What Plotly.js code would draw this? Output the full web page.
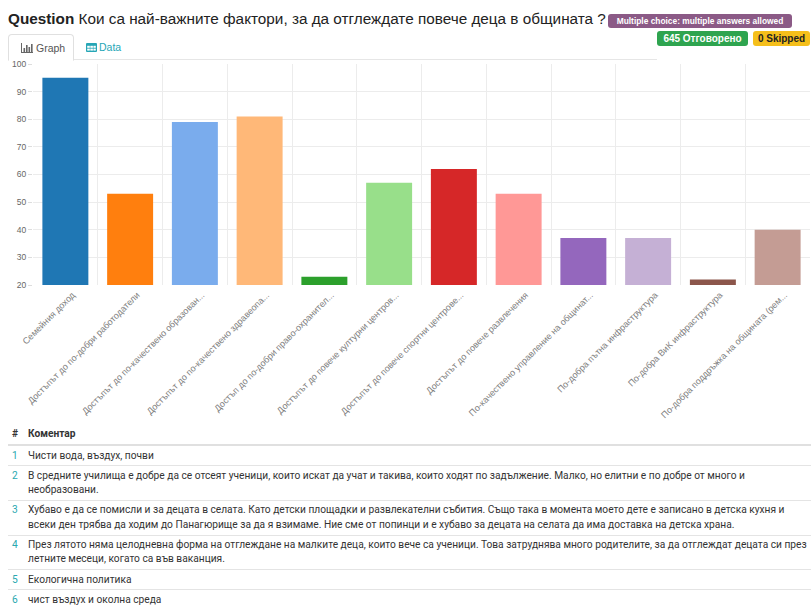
<!DOCTYPE html>
<html>
<head>
<meta charset="utf-8">
<script src="https://cdn.plot.ly/plotly-3.0.1.min.js"></script>
<style>
  html, body { margin:0; padding:0; background:#fff; width:811px; height:606px; overflow:hidden; font-family:"Liberation Sans", Arial, sans-serif; }
  #title { position:absolute; left:8px; top:10px; font-size:15.3px; color:#222; white-space:nowrap; }
  #title b { font-weight:bold; }
  .badge { position:absolute; color:#fff; font-weight:bold; border-radius:3px; white-space:nowrap; text-align:center; }
  #bq { left:608px; top:14px; width:184px; height:14px; line-height:14px; font-size:8.4px; background:#8b5a86; }
  #ba { left:657px; top:31px; width:91px; height:15px; line-height:15px; font-size:10px; background:#2ea44f; }
  #bs { left:753px; top:31px; width:57px; height:15px; line-height:15px; font-size:10px; background:#f5bf1b; color:#222; }
  #tabline { position:absolute; left:8px; top:59px; width:649px; height:1px; background:#e6e6e6; }
  #tabg { position:absolute; left:8px; top:34px; width:64px; height:25px; border:1px solid #e0e0e0; border-bottom:1px solid #fff; border-radius:4px 4px 0 0; background:#fff; font-size:10.5px; color:#555; }
  #tabg span { position:absolute; left:27px; top:7px; }
  #tabg svg { position:absolute; left:12px; top:8px; }
  #tabd { position:absolute; left:86px; top:41px; font-size:10.5px; color:#26a6b6; }
  #tabd span { position:absolute; left:13px; top:0px; }
  #tabd svg { position:absolute; left:0px; top:2px; }
  #chart { position:absolute; left:0; top:55px; width:811px; height:369px; }
  #tbl { position:absolute; left:8px; top:425px; width:803px; border-collapse:collapse; font-family:Roboto, "Liberation Sans", sans-serif; font-size:10.2px; color:#333; }
  #tbl td, #tbl th { padding:2.4px 0 2.4px 0; line-height:14.4px; vertical-align:top; border-bottom:1px solid #e4e4e4; text-align:left; }
  #tbl th { font-weight:bold; border-bottom:2px solid #e0e0e0; }
  #tbl .n { width:16px; padding-left:4px; color:#2aa8b0; }
  #tbl th.n { color:#333; }
  #tbl tr:last-child td { border-bottom:none; }
</style>
</head>
<body>
<div id="title"><b>Question</b> Кои са най-важните фактори, за да отглеждате повече деца в общината ?</div>
<div class="badge" id="bq">Multiple choice: multiple answers allowed</div>
<div class="badge" id="ba">645 Отговорено</div>
<div class="badge" id="bs">0 Skipped</div>
<div id="tabline"></div>
<div id="tabg"><svg width="12" height="10" viewBox="0 0 12 10"><rect x="0" y="0" width="1" height="10" fill="#666"/><rect x="0" y="9" width="12" height="1" fill="#666"/><rect x="2.5" y="5" width="1.6" height="4" fill="#666"/><rect x="5" y="2" width="1.6" height="7" fill="#666"/><rect x="7.5" y="4" width="1.6" height="5" fill="#666"/><rect x="10" y="1" width="1.6" height="8" fill="#666"/></svg><span>Graph</span></div>
<div id="tabd"><svg width="11" height="9" viewBox="0 0 11 9"><rect x="0" y="0" width="11" height="9" rx="1" fill="#26a6b6"/><rect x="1.2" y="2.8" width="2.6" height="2" fill="#fff"/><rect x="4.3" y="2.8" width="2.6" height="2" fill="#fff"/><rect x="7.4" y="2.8" width="2.4" height="2" fill="#fff"/><rect x="1.2" y="5.6" width="2.6" height="2" fill="#fff"/><rect x="4.3" y="5.6" width="2.6" height="2" fill="#fff"/><rect x="7.4" y="5.6" width="2.4" height="2" fill="#fff"/></svg><span>Data</span></div>
<div id="chart"></div>
<table id="tbl">
  <tr><th class="n">#</th><th>Коментар</th></tr>
  <tr><td class="n">1</td><td>Чисти вода, въздух, почви</td></tr>
  <tr><td class="n">2</td><td>В средните училища е добре да се отсеят ученици, които искат да учат и такива, които ходят по задължение. Малко, но елитни е по добре от много и<br>необразовани.</td></tr>
  <tr><td class="n">3</td><td>Хубаво е да се помисли и за децата в селата. Като детски площадки и развлекателни събития. Също така в момента моето дете е записано в детска кухня и<br>всеки ден трябва да ходим до Панагюрище за да я взимаме. Ние сме от попинци и е хубаво за децата на селата да има доставка на детска храна.</td></tr>
  <tr><td class="n">4</td><td>През лятото няма целодневна форма на отглеждане на малките деца, които вече са ученици. Това затруднява много родителите, за да отглеждат децата си през<br>летните месеци, когато са във ваканция.</td></tr>
  <tr><td class="n">5</td><td>Екологична политика</td></tr>
  <tr><td class="n">6</td><td>чист въздух и околна среда</td></tr>
</table>
<script>
const categories = [
  "Семейния доход",
  "Достъпът до по-добри работодатели",
  "Достъпът до по-качествено образован...",
  "Достъпът до по-качествено здравеопа...",
  "Достъп до по-добри право-охранител...",
  "Достъпът до повече културни центров...",
  "Достъпът до повече спортни центрове...",
  "Достъпът до повече развлечения",
  "По-качествено управление на общинат...",
  "По-добра пътна инфраструктура",
  "По-добра ВиК инфраструктура",
  "По-добра поддръжка на общината (рем..."
];
const values = [95, 53, 79, 81, 23, 57, 62, 53, 37, 37, 22, 40];
const yTicks = [20, 30, 40, 50, 60, 70, 80, 90, 100];

const barColors = ["#1f77b4", "#ff7f0e", "#7aaced", "#ffb878", "#2ca02c", "#98df8a",
                   "#d62728", "#ff9896", "#9467bd", "#c5b0d5", "#8c564b", "#c49c94"];

const trace = {
  type: "bar",
  x: categories,
  y: values,
  marker: { color: barColors },
  hoverinfo: "x+y"
};

const layout = {
  width: 811, height: 369,
  margin: { l: 33, r: 1, t: 9, b: 139 },
  paper_bgcolor: "rgba(0,0,0,0)",
  plot_bgcolor: "#fff",
  bargap: 0.29,
  showlegend: false,
  font: { family: "Liberation Sans, Arial, sans-serif", color: "#666" },
  xaxis: {
    type: "category",
    tickangle: -45,
    tickson: "boundaries",
    showgrid: true,
    gridcolor: "#ececec",
    ticks: "",
    showline: false,
    zeroline: false,
    ticklabelshift: 7,
    ticklabelstandoff: 2,
    tickfont: { size: 9, color: "#808080" },
    automargin: false
  },
  yaxis: {
    range: [20, 100],
    tickvals: yTicks,
    ticktext: yTicks.map(String),
    showgrid: true,
    gridcolor: "#ececec",
    ticks: "outside",
    ticklen: 4,
    tickcolor: "#ddd",
    zeroline: false,
    showline: false,
    tickfont: { size: 8.5, color: "#666" },
    automargin: false
  }
};

Plotly.newPlot("chart", [trace], layout, { displayModeBar: false, staticPlot: false });
</script>
</body>
</html>
